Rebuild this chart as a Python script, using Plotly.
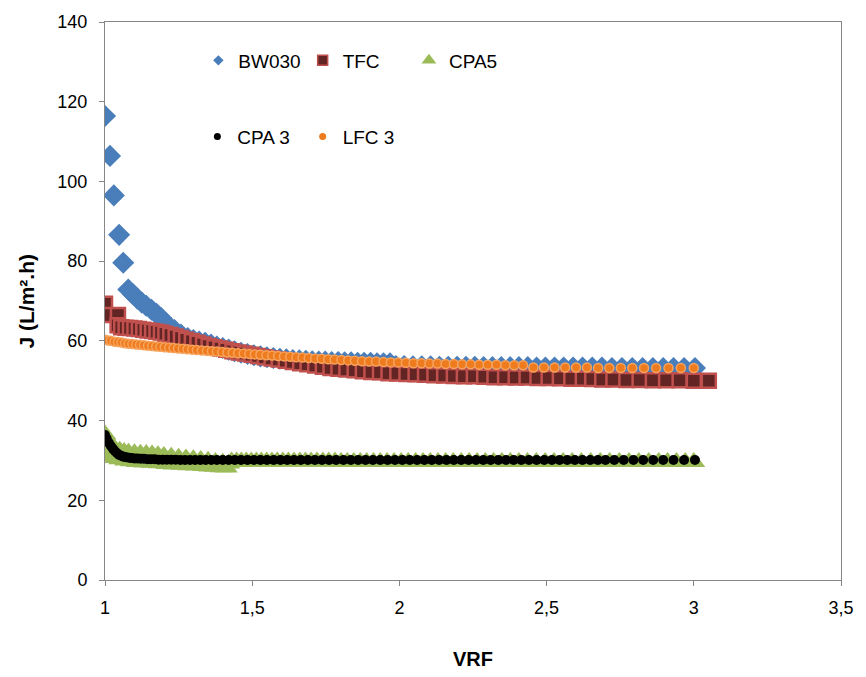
import plotly.graph_objects as go

# ---------------- data ----------------
bw030_vrf = [1.000, 1.017, 1.030, 1.048, 1.062, 1.079, 1.095, 1.110, 1.125, 1.140,
             1.158, 1.175, 1.191, 1.210, 1.236, 1.258, 1.281, 1.300, 1.320, 1.340,
             1.360, 1.380, 1.400, 1.420, 1.440, 1.462, 1.484, 1.506, 1.528, 1.550,
             1.572, 1.594, 1.616, 1.638, 1.660, 1.682, 1.704, 1.726, 1.748, 1.770,
             1.792, 1.814, 1.836, 1.858, 1.880, 1.902, 1.924, 1.946, 1.968, 1.988,
             2.016, 2.046, 2.076, 2.106, 2.136, 2.166, 2.196, 2.226, 2.256, 2.286,
             2.316, 2.346, 2.376, 2.406, 2.436, 2.466, 2.496, 2.527, 2.558, 2.590,
             2.622, 2.655, 2.688, 2.722, 2.756, 2.791, 2.826, 2.861, 2.896, 2.931,
             2.967, 3.004]
bw030_j = [116.4, 106.4, 96.5, 86.6, 79.6, 72.9, 71.7, 70.6, 69.6, 68.8,
           67.8, 66.8, 65.7, 64.3, 62.7, 61.6, 60.7, 60.2, 59.8, 59.5,
           59.1, 58.6, 58.2, 57.8, 57.4, 57.0, 56.7, 56.4, 56.1, 55.9,
           55.7, 55.5, 55.4, 55.2, 55.1, 55.0, 54.9, 54.8, 54.8, 54.7,
           54.7, 54.6, 54.6, 54.5, 54.5, 54.5, 54.4, 54.4, 54.4, 53.7,
           53.7, 53.6, 53.6, 53.6, 53.5, 53.5, 53.5, 53.5, 53.5, 53.4,
           53.4, 53.4, 53.4, 53.4, 53.4, 53.3, 53.3, 53.3, 53.3, 53.3,
           53.3, 53.3, 53.3, 53.2, 53.2, 53.2, 53.2, 53.2, 53.2, 53.2,
           53.2, 53.2]

tfc_vrf = [1.000, 1.000, 1.044, 1.043, 1.055, 1.070, 1.085, 1.100, 1.115, 1.130,
           1.145, 1.160, 1.175, 1.190, 1.205, 1.222, 1.240, 1.258, 1.276, 1.295,
           1.314, 1.333, 1.352, 1.372, 1.392, 1.412, 1.433, 1.454, 1.476, 1.498,
           1.520, 1.543, 1.566, 1.590, 1.614, 1.638, 1.663, 1.688, 1.714, 1.740,
           1.766, 1.793, 1.820, 1.848, 1.876, 1.905, 1.934, 1.963, 1.993, 2.024,
           2.055, 2.087, 2.119, 2.152, 2.185, 2.219, 2.253, 2.288, 2.323, 2.359,
           2.395, 2.432, 2.469, 2.507, 2.545, 2.584, 2.623, 2.655, 2.689, 2.727,
           2.771, 2.816, 2.861, 2.906, 2.952, 3.000, 3.051]
tfc_j = [69.3, 66.5, 66.5, 63.9, 63.4, 63.3, 63.2, 63.1, 63.0, 62.8,
         62.6, 62.5, 62.3, 62.1, 61.8, 61.5, 61.1, 60.7, 60.3, 59.9,
         59.5, 59.1, 58.7, 58.4, 58.1, 57.8, 57.4, 57.1, 56.8, 56.5,
         56.2, 55.9, 55.6, 55.3, 55.0, 54.7, 54.4, 54.1, 53.8, 53.5,
         53.2, 53.0, 52.8, 52.6, 52.4, 52.2, 52.1, 51.9, 51.8, 51.7,
         51.6, 51.5, 51.4, 51.3, 51.2, 51.1, 51.1, 51.0, 50.9, 50.9,
         50.8, 50.8, 50.7, 50.7, 50.6, 50.5, 50.5, 50.4, 50.3, 50.3,
         50.2, 50.2, 50.1, 50.1, 50.1, 50.0, 50.0]

cpa5_vrf = [1.000, 1.005, 1.010, 1.020, 1.034, 1.050, 1.065, 1.080, 1.100, 1.120,
            1.140, 1.160, 1.180, 1.200, 1.225, 1.250, 1.275, 1.300, 1.325, 1.350,
            1.375, 1.400, 1.420,
            1.000, 1.005, 1.012, 1.020, 1.035, 1.050, 1.070, 1.090, 1.110, 1.135,
            1.160, 1.185, 1.210, 1.235, 1.260, 1.285, 1.310, 1.335, 1.355, 1.375,
            1.395, 1.412,
            1.430, 1.447, 1.463, 1.480, 1.497, 1.514, 1.531, 1.549, 1.567, 1.585,
            1.604, 1.623, 1.642, 1.662, 1.681, 1.700, 1.720, 1.740, 1.760, 1.781,
            1.802, 1.823, 1.845, 1.867, 1.889, 1.912, 1.935, 1.958, 1.982, 2.006,
            2.030, 2.055, 2.080, 2.105, 2.131, 2.157, 2.183, 2.210, 2.237, 2.264,
            2.292, 2.320, 2.348, 2.377, 2.406, 2.435, 2.465, 2.495, 2.525, 2.556,
            2.587, 2.618, 2.650, 2.682, 2.714, 2.747, 2.780, 2.813, 2.847, 2.881,
            2.911, 2.941, 2.971, 3.000]
cpa5_j = [36.5, 35.5, 34.2, 33.4, 32.8, 32.4, 32.1, 31.9, 31.8, 31.7,
          31.6, 31.5, 31.3, 31.1, 30.9, 30.7, 30.5, 30.3, 30.1, 29.9,
          29.6, 29.4, 29.2,
          33.0, 32.2, 31.5, 31.1, 30.6, 30.3, 30.0, 29.8, 29.6, 29.5,
          29.4, 29.3, 29.1, 29.0, 28.9, 28.8, 28.7, 28.6, 28.5, 28.4,
          28.3, 28.2,
          29.7, 29.7, 29.7, 29.7, 29.7, 29.7, 29.7, 29.7, 29.7, 29.7,
          29.7, 29.7, 29.7, 29.7, 29.7, 29.7, 29.7, 29.7, 29.7, 29.7,
          29.6, 29.6, 29.6, 29.6, 29.6, 29.6, 29.6, 29.6, 29.6, 29.6,
          29.6, 29.6, 29.6, 29.6, 29.6, 29.6, 29.6, 29.6, 29.6, 29.6,
          29.6, 29.6, 29.6, 29.6, 29.6, 29.6, 29.6, 29.6, 29.6, 29.6,
          29.6, 29.6, 29.6, 29.6, 29.6, 29.6, 29.6, 29.6, 29.6, 29.6,
          29.6, 29.6, 29.6, 29.6]

cpa3_vrf = [1.000, 1.006, 1.013, 1.020, 1.027, 1.034, 1.041, 1.048, 1.056, 1.064,
            1.072, 1.081, 1.090, 1.100, 1.110, 1.121, 1.132, 1.144, 1.156, 1.169,
            1.182, 1.196, 1.210, 1.225, 1.240, 1.256, 1.272, 1.289, 1.306, 1.324,
            1.342, 1.361, 1.380, 1.400, 1.420, 1.441, 1.462, 1.484, 1.506, 1.528,
            1.550, 1.573, 1.596, 1.619, 1.642, 1.665, 1.689, 1.713, 1.737, 1.761,
            1.785, 1.810, 1.835, 1.860, 1.885, 1.910, 1.935, 1.960, 1.985, 2.010,
            2.035, 2.060, 2.085, 2.110, 2.135, 2.160, 2.185, 2.210, 2.235, 2.260,
            2.285, 2.310, 2.336, 2.362, 2.388, 2.414, 2.440, 2.466, 2.492, 2.518,
            2.544, 2.570, 2.596, 2.622, 2.648, 2.674, 2.700, 2.730, 2.762, 2.795,
            2.828, 2.862, 2.896, 2.931, 2.967, 3.004]
cpa3_j = [36.4, 35.4, 34.4, 33.6, 32.9, 32.3, 31.8, 31.4, 31.1, 30.9,
          30.8, 30.7, 30.6, 30.5, 30.5, 30.4, 30.4, 30.3, 30.3, 30.3,
          30.2, 30.2, 30.2, 30.2, 30.2, 30.1, 30.1, 30.1, 30.1, 30.1,
          30.1, 30.1, 30.1, 30.1, 30.1, 30.1, 30.1, 30.1, 30.1, 30.1,
          30.1, 30.1, 30.1, 30.1, 30.1, 30.1, 30.1, 30.1, 30.1, 30.1,
          30.1, 30.1, 30.1, 30.1, 30.1, 30.1, 30.1, 30.1, 30.1, 30.1,
          30.1, 30.1, 30.1, 30.1, 30.1, 30.1, 30.1, 30.1, 30.1, 30.1,
          30.1, 30.1, 30.1, 30.1, 30.1, 30.1, 30.1, 30.1, 30.1, 30.1,
          30.1, 30.1, 30.1, 30.1, 30.1, 30.1, 30.1, 30.1, 30.1, 30.1,
          30.1, 30.1, 30.1, 30.1, 30.1, 30.1]

lfc3_vrf = [1.000, 1.010, 1.020, 1.032, 1.044, 1.056, 1.068, 1.080, 1.093, 1.106,
            1.119, 1.132, 1.146, 1.160, 1.174, 1.188, 1.203, 1.218, 1.233, 1.248,
            1.264, 1.280, 1.296, 1.312, 1.329, 1.346, 1.363, 1.380, 1.398, 1.416,
            1.434, 1.452, 1.471, 1.490, 1.509, 1.528, 1.548, 1.568, 1.588, 1.608,
            1.629, 1.650, 1.671, 1.692, 1.714, 1.736, 1.758, 1.780, 1.803, 1.826,
            1.849, 1.873, 1.897, 1.921, 1.946, 1.971, 1.996, 2.022, 2.048, 2.075,
            2.102, 2.129, 2.157, 2.185, 2.213, 2.242, 2.271, 2.300, 2.330, 2.360,
            2.390, 2.420, 2.455, 2.491, 2.527, 2.563, 2.600, 2.637, 2.675, 2.713,
            2.752, 2.791, 2.831, 2.872, 2.914, 2.956, 3.000]
lfc3_j = [60.3, 60.1, 60.0, 59.8, 59.7, 59.6, 59.4, 59.3, 59.2, 59.1,
          59.0, 58.9, 58.8, 58.7, 58.6, 58.5, 58.4, 58.3, 58.2, 58.1,
          58.0, 57.9, 57.8, 57.7, 57.6, 57.5, 57.4, 57.3, 57.2, 57.1,
          57.0, 56.9, 56.8, 56.7, 56.6, 56.5, 56.4, 56.3, 56.2, 56.1,
          56.0, 55.9, 55.8, 55.7, 55.6, 55.5, 55.4, 55.3, 55.2, 55.1,
          55.0, 54.9, 54.8, 54.8, 54.7, 54.6, 54.6, 54.5, 54.4, 54.4,
          54.3, 54.3, 54.2, 54.2, 54.1, 54.1, 54.0, 54.0, 54.0, 53.9,
          53.9, 53.9, 53.3, 53.3, 53.3, 53.3, 53.3, 53.3, 53.2, 53.2,
          53.2, 53.2, 53.2, 53.2, 53.2, 53.2, 53.2]

series_names = ["BW030", "TFC", "CPA5", "CPA 3", "LFC 3"]
x_ticks = [1, 1.5, 2, 2.5, 3, 3.5]
y_ticks = [0, 20, 40, 60, 80, 100, 120, 140]

# ---------------- styling ----------------
FONT = "Liberation Sans, Arial, sans-serif"
AXIS_GREY = "#868686"

styles = [
    dict(symbol="diamond", size=17, color="#4A7EBB", line=dict(width=0)),
    dict(symbol="square", size=14, color="#632523", line=dict(width=2.5, color="#C0504D")),
    dict(symbol="triangle-up", size=20, color="#9BBB59", line=dict(width=0)),
    dict(symbol="circle", size=10, color="#000000", line=dict(width=0)),
    dict(symbol="circle", size=9, color="#EE7B1E", line=dict(width=1.5, color="#F7A35C")),
]
legend_styles = [
    dict(symbol="diamond", size=8, color="#4A7EBB", line=dict(width=0)),
    dict(symbol="square", size=10, color="#632523", line=dict(width=1.5, color="#C0504D")),
    dict(symbol="triangle-up", size=13, color="#9BBB59", line=dict(width=0)),
    dict(symbol="circle", size=7, color="#000000", line=dict(width=0)),
    dict(symbol="circle", size=7, color="#EE7B1E", line=dict(width=0)),
]
legend_ids = ["legend", "legend2", "legend3", "legend4", "legend5"]

data_x = [bw030_vrf, tfc_vrf, cpa5_vrf, cpa3_vrf, lfc3_vrf]
data_y = [bw030_j, tfc_j, cpa5_j, cpa3_j, lfc3_j]

fig = go.Figure()
for xs, ys, name, st in zip(data_x, data_y, series_names, styles):
    fig.add_trace(go.Scatter(x=xs, y=ys, mode="markers", name=name,
                             marker=st, showlegend=False, hoverinfo="skip"))

# legend-only entries (small symbols like the original legend)
for name, st, lid in zip(series_names, legend_styles, legend_ids):
    fig.add_trace(go.Scatter(x=[None], y=[None], mode="markers", name=name,
                             marker=st, showlegend=True, legend=lid))

L, R, T, B = 105, 20, 15, 97
W, H = 866, 677
pw, ph = W - L - R, H - T - B


def px_to_paper(px, py):
    return (px - L) / pw, (H - B - py) / ph


leg_pos = [(199, 54), (304, 54), (411, 54), (198, 131), (304, 131)]
legend_layout = {}
for lid, (lx, ly) in zip(legend_ids, leg_pos):
    xx, yy = px_to_paper(lx, ly)
    legend_layout[lid] = dict(x=xx, y=yy, xanchor="left", yanchor="middle",
                              bgcolor="rgba(0,0,0,0)", borderwidth=0,
                              font=dict(family=FONT, size=19, color="#000000"))

axis_common = dict(showline=True, linecolor=AXIS_GREY, linewidth=1, mirror=True,
                   ticks="outside", ticklen=5, tickcolor=AXIS_GREY, tickwidth=1,
                   showgrid=False, zeroline=False,
                   tickfont=dict(family=FONT, size=18, color="#000000"))

fig.update_layout(
    width=W, height=H,
    margin=dict(l=L, r=R, t=T, b=B, pad=0),
    paper_bgcolor="white", plot_bgcolor="white",
    separators=",.",
    font=dict(family=FONT, size=18, color="#000000"),
    xaxis=dict(range=[1, 3.5], tickvals=x_ticks, ticklabelstandoff=6, **axis_common),
    yaxis=dict(range=[0, 140], tickvals=y_ticks, ticklabelstandoff=8, **axis_common),
    **legend_layout,
)

tx, ty = px_to_paper(25, 297)
fig.add_annotation(text="<b>J (L/m².h)</b>", xref="paper", yref="paper", x=tx, y=0.5,
                   textangle=-90, showarrow=False, xanchor="center", yanchor="middle",
                   font=dict(family=FONT, size=21, color="#000000"))
vx, vy = px_to_paper(475, 660)
fig.add_annotation(text="<b>VRF</b>", xref="paper", yref="paper", x=0.5, y=vy,
                   showarrow=False, xanchor="center", yanchor="middle",
                   font=dict(family=FONT, size=20, color="#000000"))

fig.write_html("out.html")
